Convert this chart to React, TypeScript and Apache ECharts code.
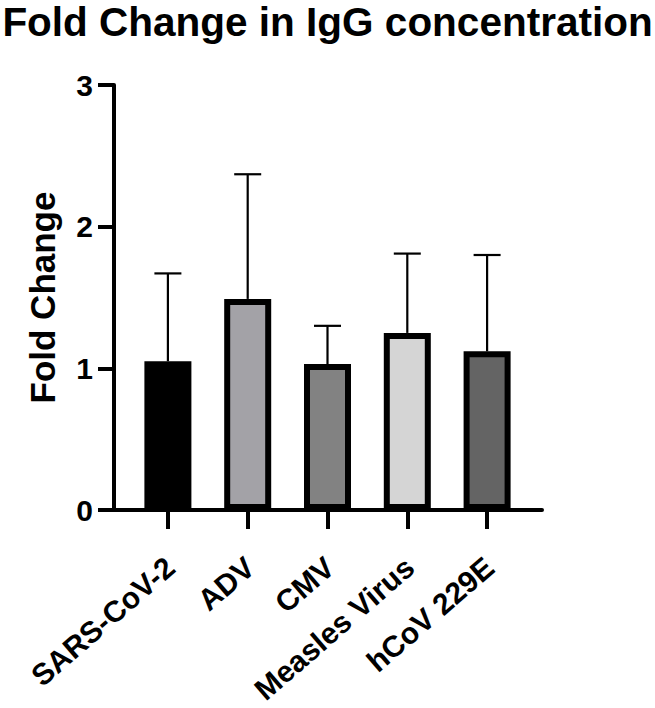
import React, { useEffect, useRef } from "react";
import * as echarts from "echarts";

// Antigen groups along the x axis
const categories = ["SARS-CoV-2", "ADV", "CMV", "Measles Virus", "hCoV 229E"];
// Mean fold change of IgG concentration per antigen
const meanValues = [1.05, 1.49, 1.03, 1.25, 1.12];
// Upper error (SD) above each mean
const sdValues = [0.62, 0.88, 0.27, 0.56, 0.68];
// Fill shade of each bar
const barColors = ["#000000", "#a3a2a7", "#828282", "#d5d5d5", "#646464"];
// Y axis range and step
const yMin = 0;
const yMax = 3;
const yStep = 1;

const FONT = "'Liberation Sans', Arial, Helvetica, sans-serif";

export default function App() {
  const ref = useRef<HTMLDivElement>(null);

  useEffect(() => {
    if (!ref.current) return;
    const chart = echarts.init(ref.current, undefined, { renderer: "svg" });

    const errorData = categories.map((_, i) => [i, meanValues[i], meanValues[i] + sdValues[i]]);

    chart.setOption({
      animation: false,
      backgroundColor: "#ffffff",
      title: {
        text: "Fold Change in IgG concentration",
        left: "center",
        top: 0,
        textStyle: { fontFamily: FONT, fontSize: 40.5, lineHeight: 34, fontWeight: "bold", color: "#000" },
      },
      grid: [
        // bars
        { left: 128, right: 128, top: 85, bottom: 198, outerBoundsMode: "none", containLabel: false },
        // axis frame
        { left: 114, right: 113, top: 85, bottom: 198, outerBoundsMode: "none", containLabel: false },
      ],
      xAxis: [
        {
          type: "category",
          gridIndex: 0,
          data: categories,
          boundaryGap: true,
          axisLine: { show: false },
          axisTick: { show: true, alignWithLabel: true, length: 19, lineStyle: { color: "#000", width: 4 } },
          axisLabel: {
            rotate: 41,
            fontFamily: FONT,
            fontSize: 30,
            fontWeight: "bold",
            color: "#000",
            margin: 35,
            align: "right",
            verticalAlign: "top",
            padding: [0, 10, 0, 0],
            interval: 0,
          },
          splitLine: { show: false },
        },
        {
          type: "value",
          gridIndex: 1,
          min: 0,
          max: 1,
          axisLine: { show: true, onZero: false, lineStyle: { color: "#000", width: 4 } },
          axisTick: { show: false },
          axisLabel: { show: false },
          splitLine: { show: false },
        },
      ],
      yAxis: [
        {
          type: "value",
          gridIndex: 0,
          min: yMin,
          max: yMax,
          interval: yStep,
          show: false,
        },
        {
          type: "value",
          gridIndex: 1,
          min: yMin,
          max: yMax,
          interval: yStep,
          name: "Fold Change",
          nameLocation: "middle",
          nameGap: 54,
          nameTextStyle: { fontFamily: FONT, fontSize: 35, fontWeight: "bold", color: "#000" },
          axisLine: { show: true, lineStyle: { color: "#000", width: 4 } },
          axisTick: { show: true, length: 16, lineStyle: { color: "#000", width: 4 } },
          axisLabel: { fontFamily: FONT, fontSize: 30, fontWeight: "bold", color: "#000", margin: 21 },
          splitLine: { show: false },
        },
      ],
      series: [
        {
          type: "bar",
          xAxisIndex: 0,
          yAxisIndex: 0,
          barWidth: 47,
          data: meanValues.map((v, i) => ({
            value: v,
            itemStyle: { color: barColors[i], borderColor: "#000", borderWidth: 6 },
          })),
          z: 3,
        },
        {
          type: "custom",
          xAxisIndex: 0,
          yAxisIndex: 0,
          z: 2,
          data: errorData,
          renderItem: (_params: any, api: any) => {
            const idx = api.value(0);
            const base = api.coord([idx, api.value(1)]);
            const top = api.coord([idx, api.value(2)]);
            const half = 13.5;
            const style = { stroke: "#000", lineWidth: 2.2 };
            return {
              type: "group",
              children: [
                { type: "line", shape: { x1: base[0], y1: base[1], x2: top[0], y2: top[1] }, style },
                { type: "line", shape: { x1: top[0] - half, y1: top[1], x2: top[0] + half, y2: top[1] }, style },
              ],
            };
          },
        },
      ],
    });

    return () => chart.dispose();
  }, []);

  return (
    <div
      ref={ref}
      style={{ position: "absolute", left: 0, top: 0, width: 655, height: 708, background: "#fff" }}
    />
  );
}
